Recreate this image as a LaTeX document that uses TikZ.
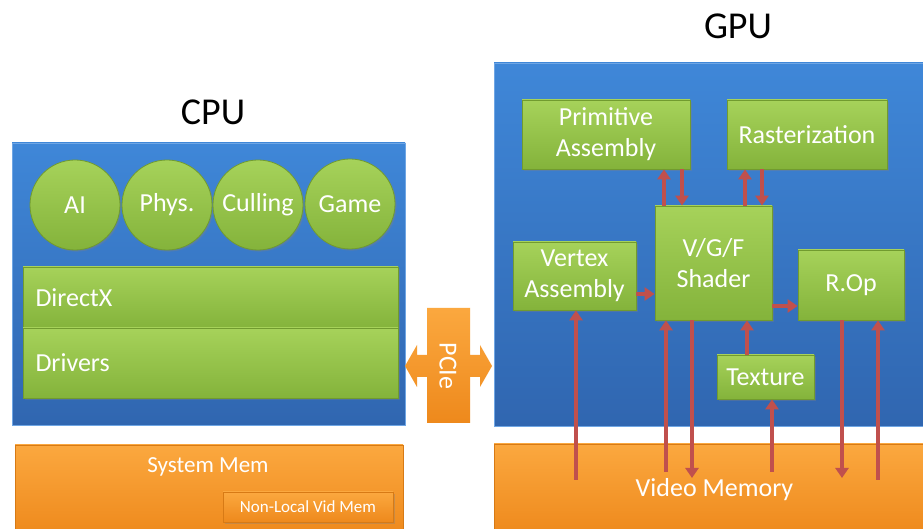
\documentclass[tikz,border=0pt]{standalone}
\usepackage{fontspec}
\setmainfont{Carlito}
\usetikzlibrary{arrows.meta,shadows}
\definecolor{blutop}{HTML}{3F87D8}
\definecolor{blubot}{HTML}{3066B0}
\definecolor{bluline}{HTML}{6FA6E4}
\definecolor{grntop}{HTML}{A6D25A}
\definecolor{grnbot}{HTML}{84B33B}
\definecolor{grnline}{HTML}{719B2F}
\definecolor{orgtop}{HTML}{FBA83F}
\definecolor{orgbot}{HTML}{EE891C}
\definecolor{orgline}{HTML}{D77A15}
\definecolor{arrred}{HTML}{C0504D}
\begin{document}
\begin{tikzpicture}[x=0.5pt,y=-0.5pt,
  title/.style={font=\fontsize{19}{22}\selectfont,text=black},
  blubox/.style={rectangle,draw=bluline,top color=blutop,bottom color=blubot,inner sep=0pt},
  grnbox/.style={rectangle,draw=grnline,top color=grntop,bottom color=grnbot,text=white,
    font=\fontsize{13}{15.5}\selectfont,align=center,inner sep=0pt,
    drop shadow={shadow xshift=0.8pt,shadow yshift=-0.8pt,opacity=0.35}},
  grnball/.style={grnbox,circle,minimum size=45pt},
  grnbar/.style={grnbox,minimum width=187.5pt,inner xsep=6pt,text width=175pt,align=left},
  orgbox/.style={rectangle,draw=orgline,top color=orgtop,bottom color=orgbot,inner sep=0pt,
    text=white,font=\fontsize{13}{15.5}\selectfont},
  memtext/.style={text=white,font=\fontsize{11.5}{14}\selectfont},
  flow/.style={draw=arrred,line width=2pt,-{Triangle[width=6.5pt,length=5pt]}}]
\clip (0,0) rectangle (923,529);
\fill[white] (0,0) rectangle (923,529);

% CPU
\node[title] (cputitle) at (213,112) {CPU};
\node[blubox,minimum width=196.5pt,minimum height=141pt] (cpu) at (208.5,284) {};
\node[grnball] (ai) at (75,205) {AI};
\node[grnball] (phys) at (167,205) {Phys.};
\node[grnball] (cull) at (258,205) {Culling};
\node[grnball] (game) at (350,204) {Game};
\node[grnbar,minimum height=30.5pt] (dx) at (210.5,297.5) {DirectX};
\node[grnbar,minimum height=35pt] (drv) at (210.5,363) {Drivers};

\node[orgbox,minimum width=194pt,minimum height=45pt] (sysmem) at (209,490) {};
\node[memtext] (sysmemlbl) at (208,467) {System Mem};
\node[orgbox,minimum width=85pt,minimum height=15pt,font=\fontsize{8.5}{10}\selectfont,
  drop shadow={shadow xshift=0.8pt,shadow yshift=-0.8pt,opacity=0.35}] (nonlocal) at (308,507) {Non-Local Vid Mem};

% PCIe
\shade[top color=orgtop,bottom color=orgbot] (405,366) -- (417,345) -- (417,355) -- (427,355) -- (427,308)
  -- (470,308) -- (470,355) -- (480,355) -- (480,345) -- (492,366) -- (480,387) -- (480,377)
  -- (470,377) -- (470,423) -- (427,423) -- (427,377) -- (417,377) -- (417,387) -- cycle;
\node[rotate=-90,text=white,font=\fontsize{13}{15.5}\selectfont] (pcie) at (448,366) {PCIe};

% GPU
\node[title] (gputitle) at (738,26) {GPU};
\node[blubox,minimum width=220.5pt,minimum height=181.5pt] (gpu) at (714.5,244.5) {};
\node[orgbox,minimum width=220.5pt,minimum height=45.5pt] (vidmem) at (714.5,489.5) {Video Memory};

\node[grnbox,minimum width=84pt,minimum height=34.5pt] (prim) at (606,134.5) {Primitive\\Assembly};
\node[grnbox,minimum width=80pt,minimum height=34.5pt] (rast) at (807,134.5) {Rasterization};
\node[grnbox,minimum width=58.5pt,minimum height=57pt] (shader) at (713.5,263) {V/G/F\\Shader};
\node[grnbox,minimum width=61.5pt,minimum height=34pt] (vtx) at (574.5,276) {Vertex\\Assembly};
\node[grnbox,minimum width=53pt,minimum height=35pt] (rop) at (851,285) {R.Op};
\node[grnbox,minimum width=48.5pt,minimum height=22pt] (tex) at (765.5,377) {Texture};

% columns of the arrows
\coordinate (p1) at (664,0);
\coordinate (p2) at (682,0);
\coordinate (r1) at (745,0);
\coordinate (r2) at (762,0);
\coordinate (t1) at (747,0);
\coordinate (m1) at (576,480);
\coordinate (m2) at (666,472);
\coordinate (m3) at (692,478);
\coordinate (m4) at (772,472);
\coordinate (m5) at (842,478);
\coordinate (m6) at (878,480);

\draw[flow] (shader.north -| p1) -- (prim.south -| p1);
\draw[flow] (prim.south -| p2) -- (shader.north -| p2);
\draw[flow] (shader.north -| r1) -- (rast.south -| r1);
\draw[flow] (rast.south -| r2) -- (shader.north -| r2);
\draw[flow] (vtx.east |- 0,294) -- (shader.west |- 0,294);
\draw[flow] (shader.east |- 0,306) -- (rop.west |- 0,306);
\draw[flow] (tex.north -| t1) -- (shader.south -| t1);
\draw[flow] (m1) -- (m1 |- vtx.south);
\draw[flow] (m2) -- (m2 |- shader.south);
\draw[flow] (m3 |- shader.south) -- (m3);
\draw[flow] (m4) -- (m4 |- tex.south);
\draw[flow] (m5 |- rop.south) -- (m5);
\draw[flow] (m6) -- (m6 |- rop.south);
\end{tikzpicture}
\end{document}
